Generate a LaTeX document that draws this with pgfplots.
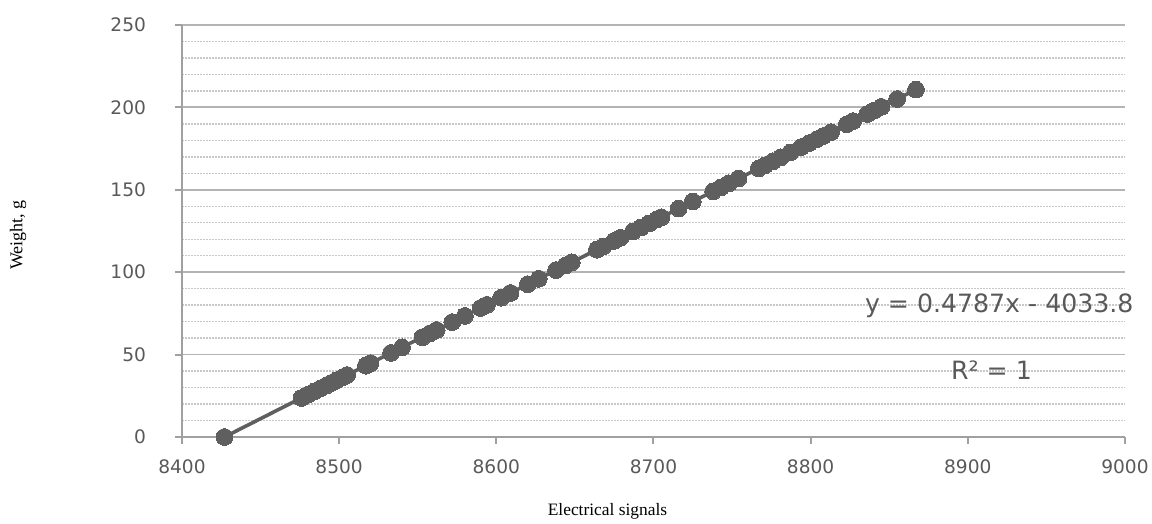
\documentclass[border=0pt]{standalone}
\usepackage{pgfplots}
\pgfplotsset{compat=1.18}
\usepackage{fontspec}
\setmainfont{Liberation Serif}
\newfontfamily\tickfont{DejaVu Sans}
\definecolor{txtgray}{HTML}{595959}
\definecolor{axgray}{HTML}{A0A0A0}
\definecolor{majgrid}{HTML}{B4B4B4}
\definecolor{mingrid}{HTML}{C8C8C8}
\definecolor{ptgray}{HTML}{5F5F5F}

\begin{document}
\begin{tikzpicture}
\begin{axis}[
    scale only axis,
    width=471.5pt, height=206pt,
    xmin=8400, xmax=9000,
    ymin=0, ymax=250,
    xtick={8400,8500,...,9000},
    ytick={0,50,...,250},
    minor y tick num=4,
    minor tick length=0pt,
    axis x line=bottom, axis y line=left,
    axis line style={axgray, line width=1pt, -},
    tick style={axgray, line width=1pt},
    tick align=outside,
    major tick length=3.5pt,
    ymajorgrids, yminorgrids,
    major grid style={majgrid, line width=0.9pt},
    minor grid style={mingrid, line width=0.7pt, dash pattern=on 1pt off 0.5pt},
    ticklabel style={font=\tickfont\fontsize{9.3}{11}\selectfont, text=txtgray},
    xticklabel style={yshift=-4.5pt},
    yticklabel style={xshift=-11pt},
    /pgf/number format/assume math mode=true,
    /pgf/number format/1000 sep={},
    clip=false,
    ]
\addplot[ptgray, line width=1.8pt, mark=*, mark size=4.2pt,
    mark options={fill=ptgray, draw=ptgray, line width=0pt}] coordinates {
    (8427,0) (8476,23.7) (8480,25.6) (8484,27.5) (8488,29.4) (8492,31.3)
    (8495,32.8) (8498,34.2) (8502,36.1) (8505,37.6) (8517,43.3) (8520,44.8)
    (8533,51.0) (8540,54.4) (8553,60.6) (8558,63.0) (8562,64.9) (8572,69.7)
    (8580,73.5) (8590,78.3) (8594,80.2) (8603,84.5) (8609,87.4) (8620,92.7)
    (8627,96.0) (8638,101.3) (8644,104.1) (8648,106.0) (8664,113.7) (8668,115.6)
    (8675,119.0) (8679,120.9) (8687,124.7) (8692,127.1) (8697,129.5) (8702,131.9)
    (8705,133.3) (8716,138.6) (8725,142.9) (8738,149.1) (8743,151.5) (8748,153.9)
    (8754,156.8) (8767,163.0) (8771,164.9) (8776,167.3) (8781,169.7) (8787,172.6)
    (8794,175.9) (8799,178.3) (8804,180.7) (8808,182.6) (8813,185.0) (8823,189.8)
    (8827,191.7) (8836,196.0) (8840,197.9) (8845,200.3) (8855,205.1) (8867,210.8)
};
\node[text=txtgray, font=\tickfont\fontsize{12.6}{14}\selectfont] at (axis cs:8920,79.5) {y = 0.4787x - 4033.8};
\node[text=txtgray, font=\tickfont\fontsize{12.6}{14}\selectfont] at (axis cs:8915,40.7) {R² = 1};
\node[rotate=90, font=\fontsize{9}{11}\selectfont] at ([xshift=-82pt]rel axis cs:0,0.49) {Weight, g};
\node[font=\fontsize{8.7}{11}\selectfont] at ([xshift=-23pt,yshift=-37pt]rel axis cs:0.5,0) {Electrical signals};
\end{axis}
\pgfresetboundingbox
\path ([xshift=-91pt,yshift=-43.5pt]current axis.origin) rectangle ++(576pt,262pt);
\end{tikzpicture}
\end{document}
